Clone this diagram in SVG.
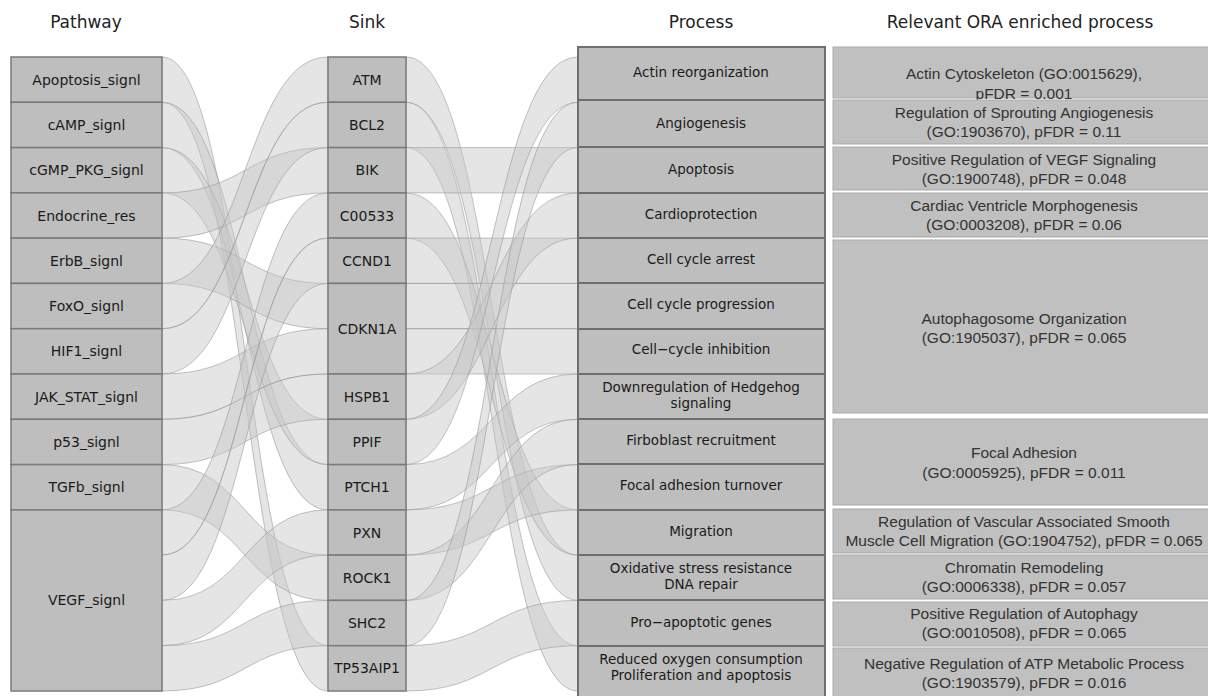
<svg xmlns="http://www.w3.org/2000/svg" width="1208" height="696" viewBox="0 0 1208 696">
<style>
.hdr{font-family:"DejaVu Sans",sans-serif;font-size:17px;fill:#222;text-anchor:middle}
.lbl{font-family:"DejaVu Sans",sans-serif;font-size:14px;fill:#1a1a1a;text-anchor:middle;dominant-baseline:central}
.plbl{font-family:"DejaVu Sans",sans-serif;font-size:13.5px;fill:#1a1a1a;text-anchor:middle;dominant-baseline:central}
.ora{font-family:"Liberation Sans",Arial,sans-serif;font-size:15.5px;fill:#333;text-anchor:middle;dominant-baseline:central}
.box{fill:#bebebe;stroke:#7a7a7a;stroke-width:1.5}
.pbox{fill:#bebebe;stroke:#6e6e6e;stroke-width:2}
.obox{fill:#c0c0c0;stroke:#a9a9a9;stroke-width:1}
.flow{fill:#c6c6c6;fill-opacity:0.45;stroke:#9a9a9a;stroke-opacity:0.6;stroke-width:1}
</style>
<rect width="1208" height="696" fill="#fff"/>
<g id="headers">
<text class="hdr" x="86" y="28">Pathway</text>
<text class="hdr" x="367" y="28">Sink</text>
<text class="hdr" x="701" y="28">Process</text>
<text class="hdr" x="1020" y="28">Relevant ORA enriched process</text>
</g>
<g id="connectors">
<path class="flow" d="M162,57 C245,57 245,645.7 328,645.7 L328,691 C245,691 245,102.3 162,102.3Z"/>
<path class="flow" d="M162,102.3 C245,102.3 245,464.6 328,464.6 L328,509.9 C245,509.9 245,147.6 162,147.6Z"/>
<path class="flow" d="M162,147.6 C245,147.6 245,419.3 328,419.3 L328,464.6 C245,464.6 245,192.9 162,192.9Z"/>
<path class="flow" d="M162,192.9 C245,192.9 245,147.6 328,147.6 L328,192.9 C245,192.9 245,238.1 162,238.1Z"/>
<path class="flow" d="M162,238.1 C245,238.1 245,283.4 328,283.4 L328,328.7 C245,328.7 245,283.4 162,283.4Z"/>
<path class="flow" d="M162,283.4 C245,283.4 245,57 328,57 L328,102.3 C245,102.3 245,328.7 162,328.7Z"/>
<path class="flow" d="M162,328.7 C245,328.7 245,102.3 328,102.3 L328,147.6 C245,147.6 245,374 162,374Z"/>
<path class="flow" d="M162,374 C245,374 245,328.7 328,328.7 L328,374 C245,374 245,419.3 162,419.3Z"/>
<path class="flow" d="M162,419.3 C245,419.3 245,374 328,374 L328,419.3 C245,419.3 245,464.6 162,464.6Z"/>
<path class="flow" d="M162,464.6 C245,464.6 245,555.1 328,555.1 L328,600.4 C245,600.4 245,509.9 162,509.9Z"/>
<path class="flow" d="M162,509.9 C245,509.9 245,192.9 328,192.9 L328,238.1 C245,238.1 245,555.1 162,555.1Z"/>
<path class="flow" d="M162,555.1 C245,555.1 245,238.1 328,238.1 L328,283.4 C245,283.4 245,600.4 162,600.4Z"/>
<path class="flow" d="M162,600.4 C245,600.4 245,509.9 328,509.9 L328,555.1 C245,555.1 245,645.7 162,645.7Z"/>
<path class="flow" d="M162,645.7 C245,645.7 245,600.4 328,600.4 L328,645.7 C245,645.7 245,691 162,691Z"/>
<path class="flow" d="M406,57 C492,57 492,555.1 578,555.1 L578,600.4 C492,600.4 492,102.3 406,102.3Z"/>
<path class="flow" d="M406,102.3 C492,102.3 492,645.7 578,645.7 L578,691 C492,691 492,147.6 406,147.6Z"/>
<path class="flow" d="M406,147.6 L578,147.6 L578,192.9 L406,192.9Z"/>
<path class="flow" d="M406,192.9 C492,192.9 492,509.9 578,509.9 L578,555.1 C492,555.1 492,238.1 406,238.1Z"/>
<path class="flow" d="M406,238.1 L578,238.1 L578,283.4 L406,283.4Z"/>
<path class="flow" d="M406,283.4 L578,283.4 L578,328.7 L406,328.7Z"/>
<path class="flow" d="M406,328.7 L578,328.7 L578,374 L406,374Z"/>
<path class="flow" d="M406,374 C492,374 492,192.9 578,192.9 L578,238.1 C492,238.1 492,419.3 406,419.3Z"/>
<path class="flow" d="M406,419.3 C492,419.3 492,57 578,57 L578,102.3 C492,102.3 492,464.6 406,464.6Z"/>
<path class="flow" d="M406,464.6 C492,464.6 492,374 578,374 L578,419.3 C492,419.3 492,509.9 406,509.9Z"/>
<path class="flow" d="M406,509.9 C492,509.9 492,464.6 578,464.6 L578,509.9 C492,509.9 492,555.1 406,555.1Z"/>
<path class="flow" d="M406,555.1 C492,555.1 492,419.3 578,419.3 L578,464.6 C492,464.6 492,600.4 406,600.4Z"/>
<path class="flow" d="M406,600.4 C492,600.4 492,102.3 578,102.3 L578,147.6 C492,147.6 492,645.7 406,645.7Z"/>
<path class="flow" d="M406,645.7 C492,645.7 492,600.4 578,600.4 L578,645.7 C492,645.7 492,691 406,691Z"/>
</g>
<g id="pathway">
<g id="p-apoptosis"><rect class="box" x="11" y="57" width="151" height="45.3"/><text class="lbl" x="86.5" y="79.6">Apoptosis_signl</text></g>
<g id="p-camp"><rect class="box" x="11" y="102.3" width="151" height="45.3"/><text class="lbl" x="86.5" y="125">cAMP_signl</text></g>
<g id="p-cgmp"><rect class="box" x="11" y="147.6" width="151" height="45.3"/><text class="lbl" x="86.5" y="170.2">cGMP_PKG_signl</text></g>
<g id="p-endocrine"><rect class="box" x="11" y="192.9" width="151" height="45.2"/><text class="lbl" x="86.5" y="215.5">Endocrine_res</text></g>
<g id="p-erbb"><rect class="box" x="11" y="238.1" width="151" height="45.3"/><text class="lbl" x="86.5" y="260.8">ErbB_signl</text></g>
<g id="p-foxo"><rect class="box" x="11" y="283.4" width="151" height="45.3"/><text class="lbl" x="86.5" y="306">FoxO_signl</text></g>
<g id="p-hif1"><rect class="box" x="11" y="328.7" width="151" height="45.3"/><text class="lbl" x="86.5" y="351.3">HIF1_signl</text></g>
<g id="p-jak"><rect class="box" x="11" y="374" width="151" height="45.3"/><text class="lbl" x="86.5" y="396.6">JAK_STAT_signl</text></g>
<g id="p-p53"><rect class="box" x="11" y="419.3" width="151" height="45.3"/><text class="lbl" x="86.5" y="441.9">p53_signl</text></g>
<g id="p-tgfb"><rect class="box" x="11" y="464.6" width="151" height="45.3"/><text class="lbl" x="86.5" y="487.2">TGFb_signl</text></g>
<g id="p-vegf"><rect class="box" x="11" y="509.9" width="151" height="181.1"/><text class="lbl" x="86.5" y="600.4">VEGF_signl</text></g>
</g>
<g id="sink">
<g id="s-atm"><rect class="box" x="328" y="57" width="78" height="45.3"/><text class="lbl" x="367" y="79.6">ATM</text></g>
<g id="s-bcl2"><rect class="box" x="328" y="102.3" width="78" height="45.3"/><text class="lbl" x="367" y="125">BCL2</text></g>
<g id="s-bik"><rect class="box" x="328" y="147.6" width="78" height="45.3"/><text class="lbl" x="367" y="170.2">BIK</text></g>
<g id="s-c00533"><rect class="box" x="328" y="192.9" width="78" height="45.2"/><text class="lbl" x="367" y="215.5">C00533</text></g>
<g id="s-ccnd1"><rect class="box" x="328" y="238.1" width="78" height="45.3"/><text class="lbl" x="367" y="260.8">CCND1</text></g>
<g id="s-cdkn1a"><rect class="box" x="328" y="283.4" width="78" height="90.6"/><text class="lbl" x="367" y="328.7">CDKN1A</text></g>
<g id="s-hspb1"><rect class="box" x="328" y="374" width="78" height="45.3"/><text class="lbl" x="367" y="396.6">HSPB1</text></g>
<g id="s-ppif"><rect class="box" x="328" y="419.3" width="78" height="45.3"/><text class="lbl" x="367" y="441.9">PPIF</text></g>
<g id="s-ptch1"><rect class="box" x="328" y="464.6" width="78" height="45.3"/><text class="lbl" x="367" y="487.2">PTCH1</text></g>
<g id="s-pxn"><rect class="box" x="328" y="509.9" width="78" height="45.2"/><text class="lbl" x="367" y="532.5">PXN</text></g>
<g id="s-rock1"><rect class="box" x="328" y="555.1" width="78" height="45.3"/><text class="lbl" x="367" y="577.8">ROCK1</text></g>
<g id="s-shc2"><rect class="box" x="328" y="600.4" width="78" height="45.3"/><text class="lbl" x="367" y="623">SHC2</text></g>
<g id="s-tp53aip1"><rect class="box" x="328" y="645.7" width="78" height="45.3"/><text class="lbl" x="367" y="668.3">TP53AIP1</text></g>
</g>
<g id="process">
<g id="q-actin"><rect class="pbox" x="578" y="47" width="247" height="53"/><text class="plbl" x="701" y="72">Actin reorganization</text></g>
<g id="q-angio"><rect class="pbox" x="578" y="100" width="247" height="47"/><text class="plbl" x="701" y="123">Angiogenesis</text></g>
<g id="q-apoptosis"><rect class="pbox" x="578" y="147" width="247" height="46"/><text class="plbl" x="701" y="169">Apoptosis</text></g>
<g id="q-cardio"><rect class="pbox" x="578" y="193" width="247" height="45"/><text class="plbl" x="701" y="214">Cardioprotection</text></g>
<g id="q-arrest"><rect class="pbox" x="578" y="238" width="247" height="45"/><text class="plbl" x="701" y="259">Cell cycle arrest</text></g>
<g id="q-progression"><rect class="pbox" x="578" y="283" width="247" height="46"/><text class="plbl" x="701" y="304">Cell cycle progression</text></g>
<g id="q-inhibition"><rect class="pbox" x="578" y="329" width="247" height="45"/><text class="plbl" x="701" y="349">Cell−cycle inhibition</text></g>
<g id="q-hedgehog"><rect class="pbox" x="578" y="374" width="247" height="45"/><text class="plbl" x="701" y="387">Downregulation of Hedgehog</text><text class="plbl" x="701" y="403">signaling</text></g>
<g id="q-firboblast"><rect class="pbox" x="578" y="419" width="247" height="45"/><text class="plbl" x="701" y="440">Firboblast recruitment</text></g>
<g id="q-focal"><rect class="pbox" x="578" y="464" width="247" height="46"/><text class="plbl" x="701" y="485">Focal adhesion turnover</text></g>
<g id="q-migration"><rect class="pbox" x="578" y="510" width="247" height="45"/><text class="plbl" x="701" y="531">Migration</text></g>
<g id="q-oxidative"><rect class="pbox" x="578" y="555" width="247" height="45"/><text class="plbl" x="701" y="568">Oxidative stress resistance</text><text class="plbl" x="701" y="584">DNA repair</text></g>
<g id="q-proapoptotic"><rect class="pbox" x="578" y="600" width="247" height="46"/><text class="plbl" x="701" y="622">Pro−apoptotic genes</text></g>
<g id="q-reduced"><rect class="pbox" x="578" y="646" width="247" height="52"/><text class="plbl" x="701" y="659">Reduced oxygen consumption</text><text class="plbl" x="701" y="675">Proliferation and apoptosis</text></g>
</g>
<g id="ora">
<g id="o1"><rect class="obox" x="833" y="47" width="380" height="51"/><text class="ora" x="1024" y="73">Actin Cytoskeleton (GO:0015629),</text><text class="ora" x="1024" y="93">pFDR = 0.001</text></g>
<g id="o2"><rect class="obox" x="833" y="100" width="380" height="44"/><text class="ora" x="1024" y="112">Regulation of Sprouting Angiogenesis</text><text class="ora" x="1024" y="131">(GO:1903670), pFDR = 0.11</text></g>
<g id="o3"><rect class="obox" x="833" y="147" width="380" height="43"/><text class="ora" x="1024" y="159">Positive Regulation of VEGF Signaling</text><text class="ora" x="1024" y="178">(GO:1900748), pFDR = 0.048</text></g>
<g id="o4"><rect class="obox" x="833" y="193" width="380" height="44"/><text class="ora" x="1024" y="205">Cardiac Ventricle Morphogenesis</text><text class="ora" x="1024" y="224">(GO:0003208), pFDR = 0.06</text></g>
<g id="o5"><rect class="obox" x="833" y="240" width="380" height="173"/><text class="ora" x="1024" y="318">Autophagosome Organization</text><text class="ora" x="1024" y="337">(GO:1905037), pFDR = 0.065</text></g>
<g id="o6"><rect class="obox" x="833" y="419" width="380" height="86"/><text class="ora" x="1024" y="452">Focal Adhesion</text><text class="ora" x="1024" y="472">(GO:0005925), pFDR = 0.011</text></g>
<g id="o7"><rect class="obox" x="833" y="509" width="380" height="44"/><text class="ora" x="1024" y="521">Regulation of Vascular Associated Smooth</text><text class="ora" x="1024" y="540">Muscle Cell Migration (GO:1904752), pFDR = 0.065</text></g>
<g id="o8"><rect class="obox" x="833" y="555" width="380" height="44"/><text class="ora" x="1024" y="567">Chromatin Remodeling</text><text class="ora" x="1024" y="586">(GO:0006338), pFDR = 0.057</text></g>
<g id="o9"><rect class="obox" x="833" y="602" width="380" height="44"/><text class="ora" x="1024" y="613">Positive Regulation of Autophagy</text><text class="ora" x="1024" y="632">(GO:0010508), pFDR = 0.065</text></g>
<g id="o10"><rect class="obox" x="833" y="648" width="380" height="52"/><text class="ora" x="1024" y="663">Negative Regulation of ATP Metabolic Process</text><text class="ora" x="1024" y="682">(GO:1903579), pFDR = 0.016</text></g>
</g>
</svg>
